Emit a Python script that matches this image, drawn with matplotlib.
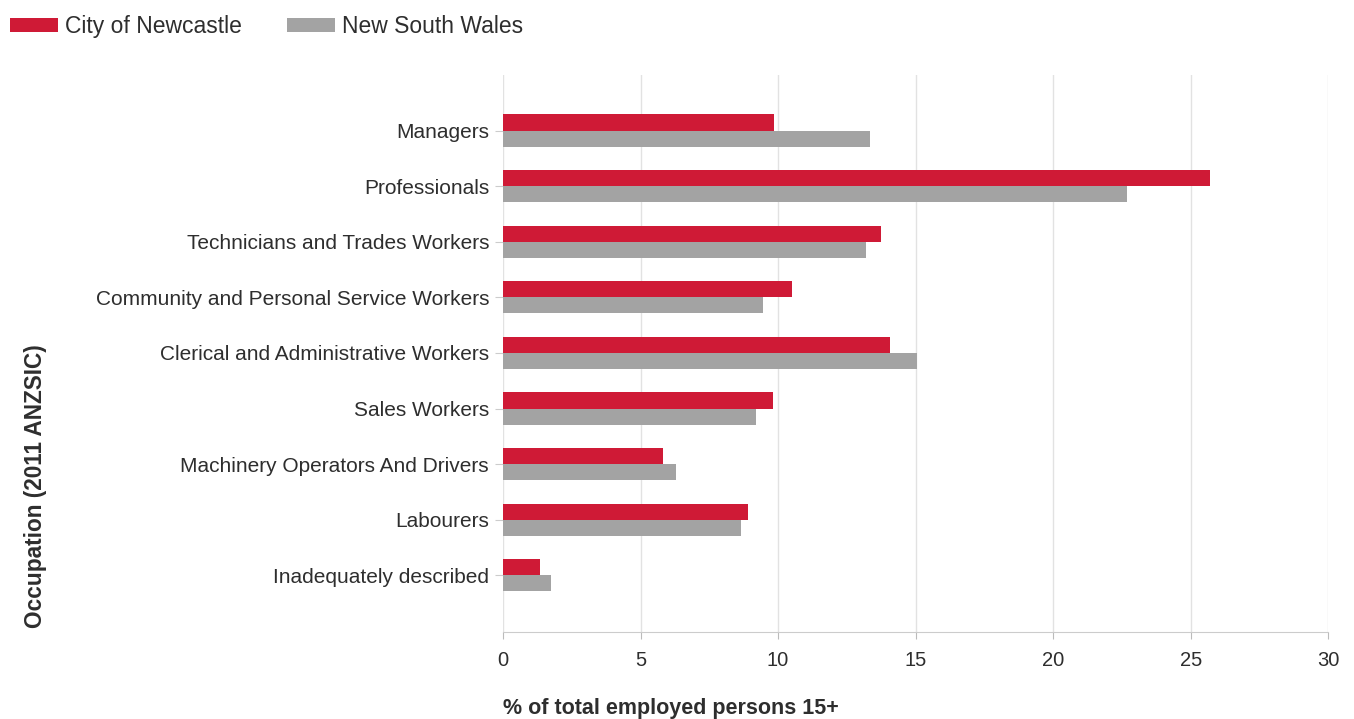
import numpy as np
import matplotlib
matplotlib.use("Agg")
import matplotlib.pyplot as plt

plt.rcParams['font.family'] = ['Liberation Sans', 'DejaVu Sans']

# ====== Data ======
occupations = [
    "Managers",
    "Professionals",
    "Technicians and Trades Workers",
    "Community and Personal Service Workers",
    "Clerical and Administrative Workers",
    "Sales Workers",
    "Machinery Operators And Drivers",
    "Labourers",
    "Inadequately described",
]
newcastle = [9.85, 25.7, 13.75, 10.5, 14.05, 9.8, 5.8, 8.9, 1.35]
nsw       = [13.35, 22.7, 13.2, 9.45, 15.05, 9.2, 6.3, 8.65, 1.75]
xticks = [0, 5, 10, 15, 20, 25, 30]

RED = "#cf1a36"
GREY = "#a3a3a3"
TXT = "#2e2e2e"

fig = plt.figure(figsize=(13.54, 7.19), dpi=100)
ax = fig.add_axes([0.3715, 0.121, 0.6095, 0.7747])

y = np.arange(len(occupations))
h = 0.29
ax.barh(y - h / 2, newcastle, height=h, color=RED, label="City of Newcastle", zorder=3)
ax.barh(y + h / 2, nsw, height=h, color=GREY, label="New South Wales", zorder=3)

ax.set_xlim(0, 30)
ax.set_ylim(len(occupations) - 1 + 1.02, -1.0)
ax.set_xticks(xticks)
ax.set_xticklabels([str(t) for t in xticks])
ax.set_yticks(y)
ax.set_yticklabels(occupations)

ax.grid(axis="x", color="#e2e2e2", linewidth=1, zorder=0)
for s in ["top", "right", "left"]:
    ax.spines[s].set_visible(False)
ax.spines["bottom"].set_color("#cccccc")
ax.tick_params(axis="x", colors="#bbbbbb", labelcolor=TXT, labelsize=14.5, length=5, pad=9)
ax.tick_params(axis="y", colors="#cccccc", labelcolor=TXT, labelsize=15, length=6, pad=4)

ax.set_xlabel("% of total employed persons 15+", fontsize=15.5, fontweight="bold",
              color=TXT, labelpad=20, loc="left")
ax.set_ylabel("Occupation (2011 ANZSIC)", fontsize=16.3, fontweight="bold", color=TXT)
ax.yaxis.set_label_coords(-0.552, 0.262)

fig.legend(loc="upper left", bbox_to_anchor=(-0.008, 1.008), ncol=2, frameon=False,
           fontsize=16.5, handlelength=2.1, handleheight=0.6, columnspacing=1.98,
           handletextpad=0.3, labelcolor=TXT)

fig.savefig("out.png", dpi=100)
